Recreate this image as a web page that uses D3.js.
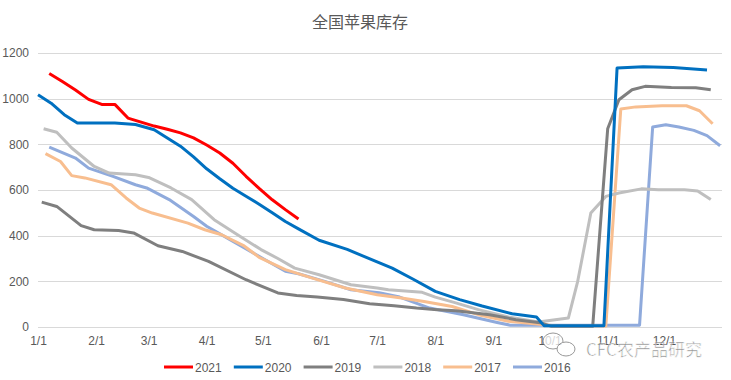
<!DOCTYPE html>
<html>
<head>
<meta charset="utf-8">
<script src="https://cdn.jsdelivr.net/npm/d3@7"></script>
<style>
  body { margin: 0; background: #fff; }
  svg { display: block; font-family: "Liberation Sans", "Noto Sans CJK SC", sans-serif; }
</style>
</head>
<body>
<div id="chart"></div>
<script>
var margin = { top: 53, right: 9, bottom: 53, left: 38 },
    width = 731 - margin.left - margin.right,
    height = 380 - margin.top - margin.bottom;

// series (month/day within the year) and stock values
const years = ["2021", "2020", "2019", "2018", "2017", "2016"]
const colors = ["#FF0000", "#0070C0", "#7F7F7F", "#BFBFBF", "#F8BE8F", "#8FAADC"]

const dates2021 = ["1/7", "1/14", "1/21", "1/28", "2/4", "2/11", "2/18", "2/25", "3/4", "3/11", "3/18", "3/25", "4/1", "4/8", "4/15", "4/22", "4/29", "5/6", "5/13", "5/20"]
const values2021 = [1110, 1075, 1038, 997, 975, 975, 915, 897, 880, 866, 850, 828, 797, 762, 717, 660, 607, 557, 514, 473]

const dates2020 = ["1/1", "1/8", "1/15", "1/22", "2/1", "2/11", "2/22", "3/4", "3/11", "3/18", "3/25", "4/1", "4/8", "4/15", "4/22", "4/29", "5/6", "5/13", "5/20", "5/31", "6/15", "6/30", "7/9", "7/20", "8/1", "8/14", "8/26", "9/11", "9/24", "9/28", "10/30", "11/6", "11/20", "12/6", "12/24"]
const values2020 = [1017, 980, 930, 893, 893, 893, 887, 864, 828, 792, 745, 693, 649, 608, 573, 538, 500, 462, 430, 380, 340, 288, 258, 210, 156, 120, 92, 58, 44, 6, 6, 1134, 1140, 1136, 1126]

const dates2019 = ["1/3", "1/11", "1/24", "1/31", "2/13", "2/21", "3/6", "3/19", "4/2", "4/22", "5/9", "5/19", "5/30", "6/13", "6/27", "7/10", "7/22", "8/2", "8/12", "8/30", "9/13", "9/26", "10/2", "10/24", "11/1", "11/7", "11/14", "11/21", "12/5", "12/18", "12/26"]
const values2019 = [547, 528, 444, 426, 423, 412, 356, 331, 287, 207, 149, 138, 131, 120, 102, 93, 83, 76, 71, 54, 32, 19, 3, 3, 868, 995, 1039, 1054, 1049, 1048, 1039]

const dates2018 = ["1/4", "1/11", "1/19", "1/31", "2/8", "2/22", "3/1", "3/13", "3/24", "4/5", "4/16", "4/30", "5/9", "5/18", "5/31", "6/17", "7/1", "7/7", "7/25", "8/1", "8/11", "8/24", "9/9", "9/25", "10/11", "10/16", "10/23", "10/31", "11/7", "11/19", "11/28", "12/12", "12/19", "12/26"]
const values2018 = [868, 853, 784, 703, 674, 667, 655, 609, 558, 470, 412, 339, 300, 258, 229, 185, 171, 163, 152, 131, 108, 76, 44, 22, 39, 200, 499, 572, 587, 605, 601, 601, 596, 558]

const dates2017 = ["1/5", "1/13", "1/19", "1/26", "2/9", "2/17", "2/24", "3/3", "3/22", "3/31", "4/9", "4/21", "4/29", "5/13", "5/27", "6/14", "7/1", "7/14", "7/26", "8/10", "8/24", "9/9", "9/23", "10/5", "10/31", "11/8", "11/16", "11/30", "12/13", "12/20", "12/27"]
const values2017 = [759, 725, 663, 653, 623, 565, 521, 499, 455, 426, 404, 355, 305, 251, 215, 171, 141, 127, 112, 90, 54, 25, 14, 4, 4, 955, 964, 969, 969, 947, 890]

const dates2016 = ["1/7", "1/21", "1/28", "2/10", "2/22", "2/28", "3/12", "3/25", "4/1", "4/13", "5/1", "5/13", "5/20", "6/3", "6/17", "7/2", "7/13", "7/29", "8/16", "9/3", "9/10", "10/15", "11/18", "11/25", "12/2", "12/9", "12/17", "12/24", "12/31"]
const values2016 = [788, 740, 696, 660, 623, 609, 558, 484, 441, 385, 300, 244, 233, 200, 163, 150, 131, 83, 54, 20, 8, 8, 8, 876, 886, 876, 861, 838, 794]

const yTicks = [0, 200, 400, 600, 800, 1000, 1200]
const xTickLabels = ["1/1", "2/1", "3/1", "4/1", "5/1", "6/1", "7/1", "8/1", "9/1", "10/1", "11/1", "12/1"]

const allDates = [dates2021, dates2020, dates2019, dates2018, dates2017, dates2016]
const allValues = [values2021, values2020, values2019, values2018, values2017, values2016]

// md string -> date in a non-leap year
function parseMD(s) {
    let p = s.split("/")
    return new Date(2001, +p[0] - 1, +p[1])
}

let xScale = d3.scaleTime()
    .domain([new Date(2001, 0, 1), new Date(2002, 0, 1)])
    .range([0, width])

let yScale = d3.scaleLinear()
    .domain([0, 1200])
    .range([height, 0])

let root = d3.select("#chart")
    .append("svg")
    .attr("width", 731)
    .attr("height", 380)

// title
root.append("text")
    .attr("x", 360)
    .attr("y", 28)
    .attr("text-anchor", "middle")
    .style("font-size", "16px")
    .style("fill", "#595959")
    .style("font-family", "'Noto Sans CJK SC', sans-serif")
    .text("全国苹果库存")

let svg = root.append("g")
    .attr("transform", "translate(" + margin.left + "," + margin.top + ")")

// gridlines
svg.append("g")
    .selectAll("line")
    .data(yTicks)
    .enter()
    .append("line")
    .attr("x1", 0)
    .attr("x2", width)
    .attr("y1", d => Math.round(yScale(d)) + 0.5)
    .attr("y2", d => Math.round(yScale(d)) + 0.5)
    .style("stroke", "#D9D9D9")
    .style("stroke-width", 1)

// y axis labels
let yAxis = svg.append("g")
    .call(d3.axisLeft(yScale).tickValues(yTicks).tickFormat(d3.format("d")).tickSize(0).tickPadding(9))
yAxis.select(".domain").remove()
yAxis.selectAll("text")
    .style("font-size", "12px")
    .style("font-family", "'Liberation Sans', sans-serif")
    .style("fill", "#595959")

// x axis labels
let xAxis = svg.append("g")
    .attr("transform", "translate(0," + height + ")")
    .call(d3.axisBottom(xScale)
        .tickValues(xTickLabels.map(parseMD))
        .tickFormat((d, i) => xTickLabels[i])
        .tickSize(0)
        .tickPadding(9))
xAxis.select(".domain").remove()
xAxis.selectAll("text")
    .style("font-size", "12px")
    .style("font-family", "'Liberation Sans', sans-serif")
    .style("fill", "#595959")

let line = d3.line()
    .x(d => xScale(d[0]))
    .y(d => yScale(d[1]))

// draw older years first so 2021 sits on top
for (let i = years.length - 1; i >= 0; i--) {
    let pts = allDates[i].map((s, j) => [parseMD(s), allValues[i][j]])
    svg.append("path")
        .datum(pts)
        .attr("d", line)
        .style("fill", "none")
        .style("stroke", colors[i])
        .style("stroke-width", 3)
        .style("stroke-linejoin", "round")
}

// legend
let legend = root.append("g")
    .attr("transform", "translate(164,367)")

let item = legend.selectAll("g")
    .data(years)
    .enter()
    .append("g")
    .attr("transform", (d, i) => "translate(" + (i * 69.8) + ",0)")

item.append("line")
    .attr("x1", 0)
    .attr("x2", 29)
    .attr("y1", 0)
    .attr("y2", 0)
    .style("stroke", (d, i) => colors[i])
    .style("stroke-width", 3)

item.append("text")
    .attr("x", 31)
    .attr("y", 5)
    .style("font-size", "12px")
    .style("fill", "#595959")
    .text(d => d)

// watermark (sits over the last axis labels, as in the source)
let wm = root.append("g").style("opacity", 0.75)
wm.append("ellipse")
    .attr("cx", 553).attr("cy", 341).attr("rx", 10).attr("ry", 8)
    .style("fill", "white").style("stroke", "#777").style("stroke-width", 1)
wm.append("ellipse")
    .attr("cx", 566).attr("cy", 349).attr("rx", 9).attr("ry", 7)
    .style("fill", "white").style("stroke", "#777").style("stroke-width", 1)
wm.append("text")
    .attr("x", 586)
    .attr("y", 356)
    .style("font-size", "17px")
    .style("font-family", "'Noto Sans CJK SC', sans-serif")
    .style("fill", "#666")
    .style("stroke", "white")
    .style("stroke-width", 0.6)
    .text("CFC农产品研究")
</script>
</body>
</html>
